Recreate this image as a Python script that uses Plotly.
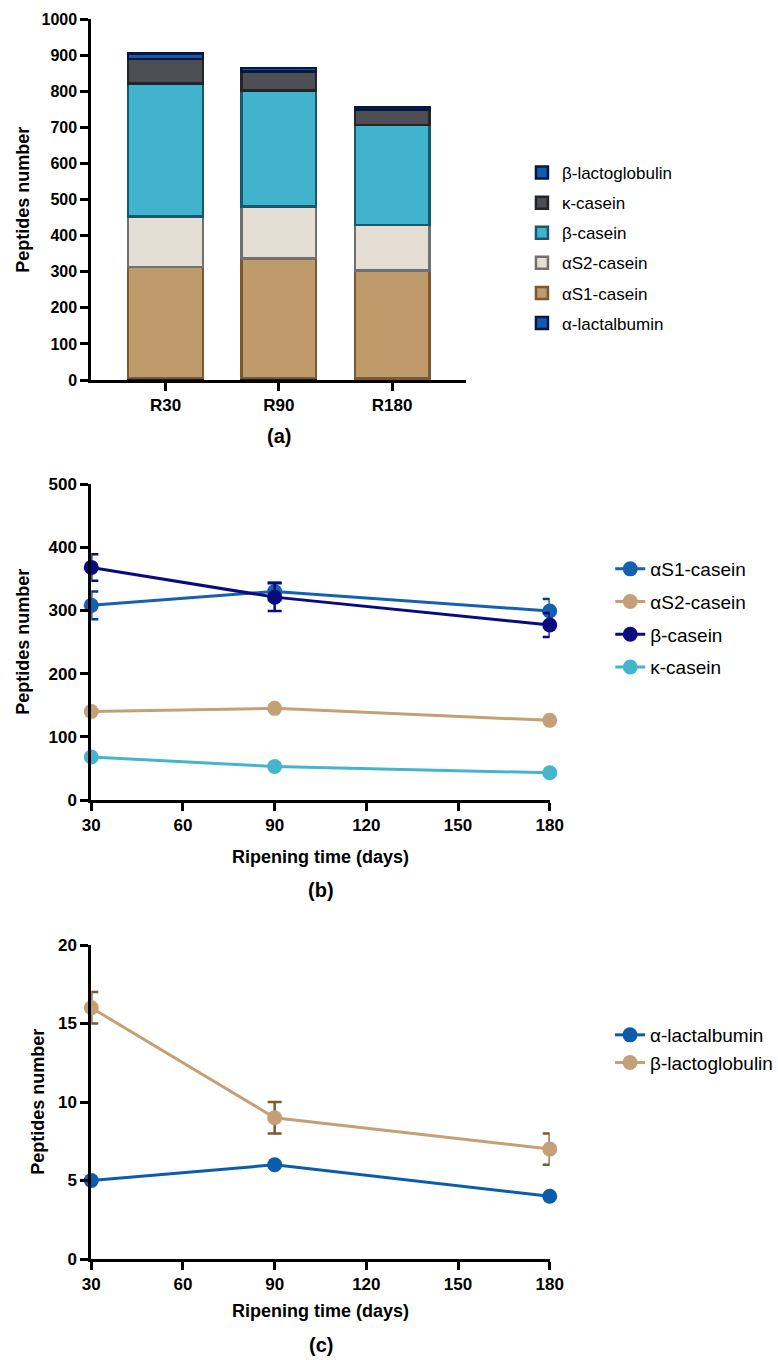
import plotly.graph_objects as go

# ---- data ----
samples = ["R30", "R90", "R180"]
days = [30, 90, 180]

alpha_lactalbumin = [5, 6, 4]
as1_casein = [308, 330, 299]
as2_casein = [140, 145, 126]
beta_casein = [368, 321, 277]
kappa_casein = [68, 53, 43]
beta_lactoglobulin = [16, 9, 7]

as1_err = [22, 14, 19]
beta_err = [21, 22, 19]
blg_err = [1, 1, 1]

W, H = 778, 1360
def px(x): return x / W
def py(y): return 1 - y / H

FONT = "Liberation Sans, Arial, sans-serif"

fig = go.Figure()

# ---- panel (a) stacked bars ----
bar_specs = [
    ("α-lactalbumin", alpha_lactalbumin, "#0F5CB0", "#06183F"),
    ("αS1-casein", as1_casein, "#BF9A6A", "#7A5A2E"),
    ("αS2-casein", as2_casein, "#E4DED4", "#707070"),
    ("β-casein", beta_casein, "#41B3CC", "#17596A"),
    ("κ-casein", kappa_casein, "#4C4E53", "#232427"),
    ("β-lactoglobulin", beta_lactoglobulin, "#0F5CB0", "#06183F"),
]
n = len(bar_specs)
for i, (name, vals, fill, line) in enumerate(bar_specs):
    fig.add_trace(go.Bar(x=samples, y=vals, name=name,
                         marker=dict(color=fill, line=dict(color=line, width=2.5)),
                         width=0.66, xaxis="x", yaxis="y", legend="legend",
                         legendgroup="a" + name, legendrank=(n - i) * 10))

# ---- panel (b) ----
line_specs = [
    ("αS1-casein", as1_casein, as1_err, "#1560B0", "#0B3C85"),
    ("αS2-casein", as2_casein, None, "#C4A077", "#C4A077"),
    ("β-casein", beta_casein, beta_err, "#0A0A80", "#0A0A80"),
    ("κ-casein", kappa_casein, None, "#45B5CC", "#45B5CC"),
]
for name, vals, err, col, ecol in line_specs:
    fig.add_trace(go.Scatter(x=days, y=vals, name=name, mode="lines+markers",
                             line=dict(color=col, width=3), marker=dict(color=col, size=15),
                             error_y=dict(type="data", array=err, visible=err is not None,
                                          color=ecol, thickness=2.5, width=7),
                             cliponaxis=False, xaxis="x2", yaxis="y2", legend="legend2",
                             legendgroup="b" + name))

# ---- panel (c) ----
c_specs = [
    ("α-lactalbumin", alpha_lactalbumin, None, "#0B5CAD", "#0B5CAD"),
    ("β-lactoglobulin", beta_lactoglobulin, blg_err, "#C4A077", "#7A5A2E"),
]
for name, vals, err, col, ecol in c_specs:
    fig.add_trace(go.Scatter(x=days, y=vals, name=name, mode="lines+markers",
                             line=dict(color=col, width=3), marker=dict(color=col, size=15),
                             error_y=dict(type="data", array=err, visible=err is not None,
                                          color=ecol, thickness=2.5, width=7),
                             cliponaxis=False, xaxis="x3", yaxis="y3", legend="legend3",
                             legendgroup="c" + name))

def ax(size):
    return dict(showline=True, linecolor="black", linewidth=3, ticks="outside", ticklen=8, tickwidth=3,
                tickcolor="black", showgrid=False, zeroline=False, automargin=False,
                tickfont=dict(family=FONT, size=size, color="black", weight="bold"))

title_font = dict(family=FONT, size=18, color="black", weight="bold")
lbl_font = dict(family=FONT, size=20, color="black", weight="bold")

def ann(text, x, y, font, angle=0):
    return dict(text=text, x=px(x), y=py(y), xref="paper", yref="paper", showarrow=False,
                xanchor="center", yanchor="middle", textangle=angle, font=font)

fig.update_layout(
    width=W, height=H, autosize=False, margin=dict(l=0, r=0, t=0, b=0),
    paper_bgcolor="white", plot_bgcolor="white", barmode="stack",
    font=dict(family=FONT, color="black"), showlegend=True,
    xaxis=dict(domain=[px(92), px(470)], anchor="y", range=[-0.655, 2.655], **ax(17)),
    yaxis=dict(domain=[py(380), py(19)], anchor="x", range=[0, 1000], dtick=100, **ax(16)),
    xaxis2=dict(domain=[px(92), px(554)], anchor="y2", range=[30, 180],
                tickvals=[30, 60, 90, 120, 150, 180], **ax(17)),
    yaxis2=dict(domain=[py(800), py(484)], anchor="x2", range=[0, 500], dtick=100, **ax(17)),
    xaxis3=dict(domain=[px(92), px(554)], anchor="y3", range=[30, 180],
                tickvals=[30, 60, 90, 120, 150, 180], **ax(17)),
    yaxis3=dict(domain=[py(1259), py(945)], anchor="x3", range=[0, 20], dtick=5, **ax(17)),
    legend=dict(x=px(526), y=py(155), xanchor="left", yanchor="top", traceorder="grouped",
                tracegroupgap=5, font=dict(family=FONT, size=17, color="black"), bgcolor="rgba(0,0,0,0)"),
    legend2=dict(x=px(615), y=py(550), xanchor="left", yanchor="top", traceorder="grouped",
                 tracegroupgap=5, font=dict(family=FONT, size=19, color="black"), bgcolor="rgba(0,0,0,0)"),
    legend3=dict(x=px(615), y=py(1016), xanchor="left", yanchor="top", traceorder="normal",
                 font=dict(family=FONT, size=19, color="black"), bgcolor="rgba(0,0,0,0)"),
    annotations=[
        ann("Peptides number", 23, 200, title_font, -90),
        ann("Peptides number", 23, 642, title_font, -90),
        ann("Peptides number", 38, 1102, title_font, -90),
        ann("Ripening time (days)", 323, 857, title_font),
        ann("Ripening time (days)", 323, 1311, title_font),
        ann("(a)", 281, 436, lbl_font),
        ann("(b)", 323, 890, lbl_font),
        ann("(c)", 323, 1345, lbl_font),
    ],
)

fig.write_html("out.html")
